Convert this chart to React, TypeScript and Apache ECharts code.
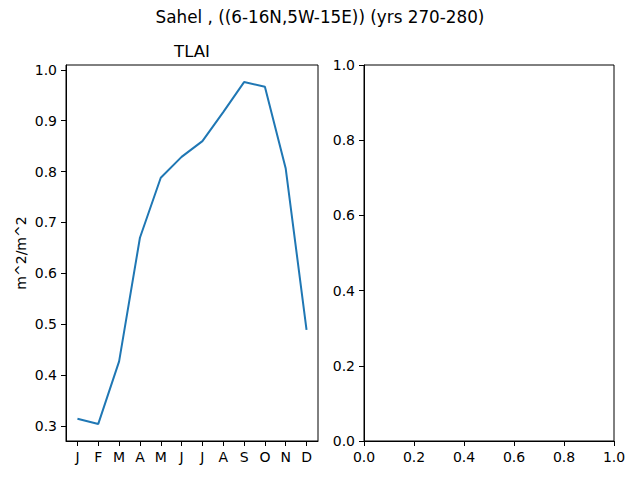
import React, { useEffect, useRef } from "react";
import * as echarts from "echarts";

const months = ["J", "F", "M", "A", "M", "J", "J", "A", "S", "O", "N", "D"];
const tlai = [0.314, 0.304, 0.427, 0.670, 0.788, 0.829, 0.860, 0.917, 0.976, 0.967, 0.806, 0.489];
const leftTicks = [0.3, 0.4, 0.5, 0.6, 0.7, 0.8, 0.9, 1.0];
const suptitle = "Sahel , ((6-16N,5W-15E)) (yrs 270-280)";
const axTitle = "TLAI";
const yName = "m^2/m^2";

const FONT = "DejaVu Sans";

export default function App() {
  const ref = useRef<HTMLDivElement>(null);
  useEffect(() => {
    document.body.style.margin = "0";
    const chart = echarts.init(ref.current!, null, { renderer: "svg" });
    const lo = Math.min(...tlai);
    const hi = Math.max(...tlai);
    const pad = (hi - lo) * 0.05;
    const xPad = (months.length - 1) * 0.05;
    const monthIdx = months.map((_, i) => i);
    const tickCommon = { show: true, length: 5, lineStyle: { color: "#000", width: 1 } };
    const labelCommon = { color: "#000", fontFamily: FONT, fontSize: 14 };
    const lineCommon = { show: true, onZero: false, lineStyle: { color: "#000", width: 1 } };
    chart.setOption({
      animation: false,
      backgroundColor: "#fff",
      textStyle: { fontFamily: FONT },
      grid: [
        { left: 66, right: 322, top: 65, bottom: 39, show: true, borderColor: "#000", borderWidth: 1, containLabel: false },
        { left: 364, right: 26, top: 65, bottom: 39, show: true, borderColor: "#000", borderWidth: 1, containLabel: false },
      ],
      graphic: [
        { type: "text", x: 320, y: 17, style: { text: suptitle, font: `16.8px ${FONT}`, fill: "#000", textAlign: "center", textVerticalAlign: "middle" } },
        { type: "text", x: 192, y: 51, style: { text: axTitle, font: `16.5px ${FONT}`, fill: "#000", textAlign: "center", textVerticalAlign: "middle" } },
      ],
      xAxis: [
        {
          gridIndex: 0,
          type: "value",
          min: -xPad,
          max: months.length - 1 + xPad,
          axisLine: lineCommon,
          axisTick: { ...tickCommon, customValues: monthIdx },
          axisLabel: {
            ...labelCommon,
            margin: 9,
            customValues: monthIdx,
            formatter: (v: number) => months[Math.round(v)] ?? "",
          },
          splitLine: { show: false },
        },
        {
          gridIndex: 1,
          type: "value",
          min: 0,
          max: 1,
          interval: 0.2,
          axisLine: lineCommon,
          axisTick: tickCommon,
          axisLabel: { ...labelCommon, margin: 9, formatter: (v: number) => v.toFixed(1) },
          splitLine: { show: false },
        },
      ],
      yAxis: [
        {
          gridIndex: 0,
          type: "value",
          min: lo - pad,
          max: hi + pad,
          name: yName,
          nameLocation: "middle",
          nameGap: 38,
          nameTextStyle: { color: "#000", fontFamily: FONT, fontSize: 14 },
          axisLine: lineCommon,
          axisTick: { ...tickCommon, customValues: leftTicks },
          axisLabel: { ...labelCommon, margin: 9, customValues: leftTicks, formatter: (v: number) => v.toFixed(1) },
          splitLine: { show: false },
        },
        {
          gridIndex: 1,
          type: "value",
          min: 0,
          max: 1,
          interval: 0.2,
          axisLine: lineCommon,
          axisTick: tickCommon,
          axisLabel: { ...labelCommon, margin: 9, formatter: (v: number) => v.toFixed(1) },
          splitLine: { show: false },
        },
      ],
      series: [
        {
          type: "line",
          xAxisIndex: 0,
          yAxisIndex: 0,
          data: tlai.map((v, i) => [i, v]),
          showSymbol: false,
          symbol: "none",
          lineStyle: { color: "#1f77b4", width: 2 },
          itemStyle: { color: "#1f77b4" },
        },
        {
          type: "line",
          xAxisIndex: 1,
          yAxisIndex: 1,
          data: [],
          symbol: "none",
        },
      ],
    });
    return () => chart.dispose();
  }, []);
  return <div ref={ref} style={{ width: 640, height: 480, position: "absolute", left: 0, top: 0 }} />;
}
